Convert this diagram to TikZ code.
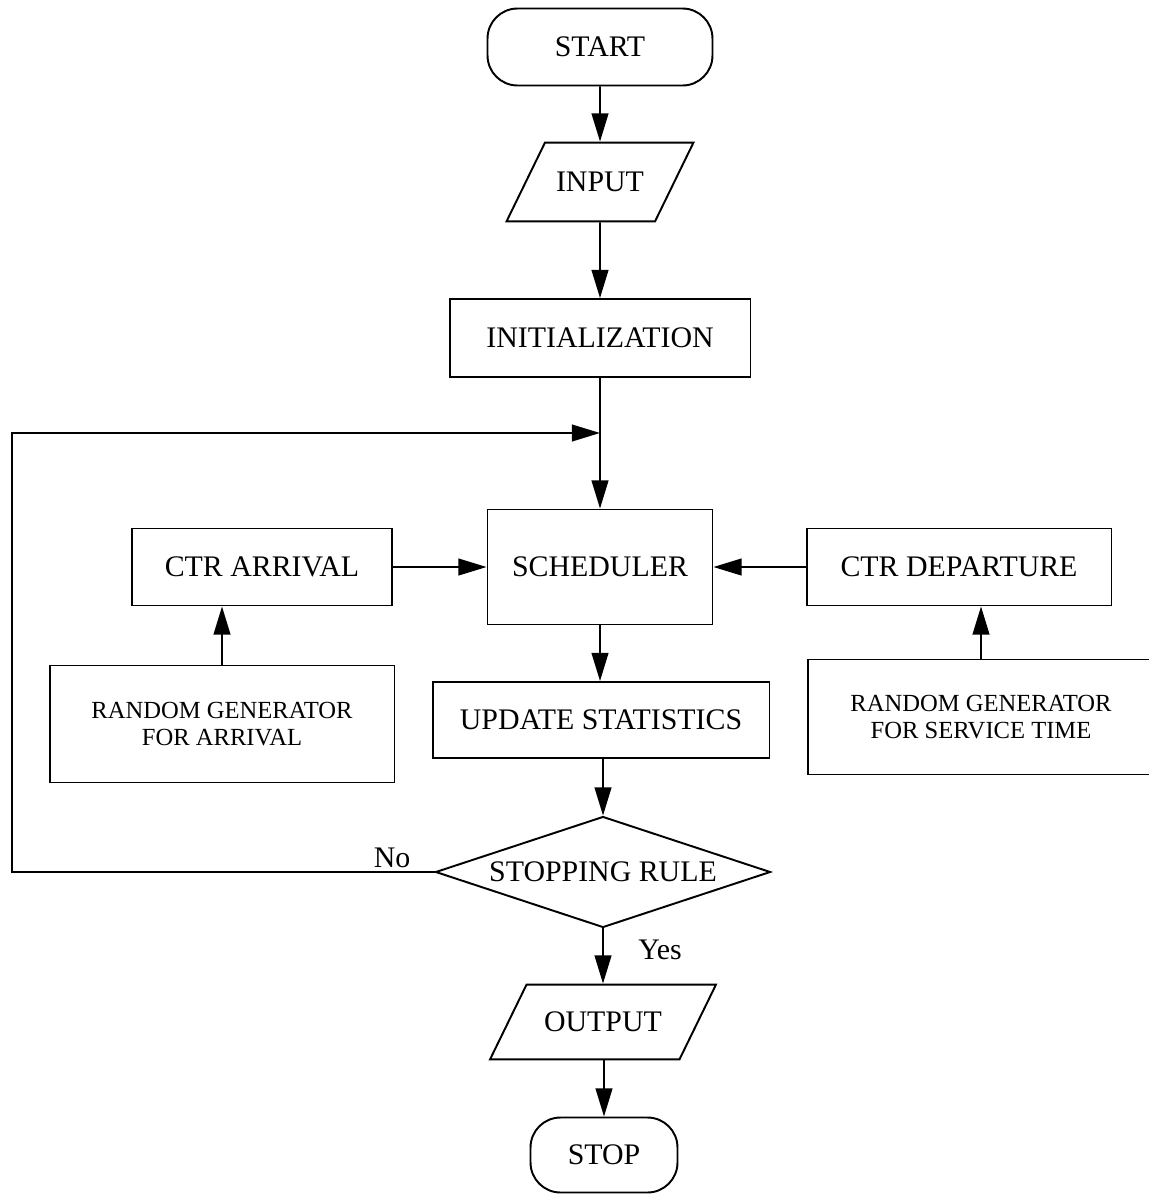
\documentclass[tikz,border=0pt]{standalone}
\usepackage{fontspec}
\setmainfont{Liberation Serif}
\usetikzlibrary{arrows.meta,shapes.geometric}
\newcommand{\bigtxt}{\fontsize{17}{20}\selectfont}
\newcommand{\smalltxt}{\fontsize{14}{15.5}\selectfont}
\tikzset{
  >={Triangle[length=16pt,width=9.5pt]},
  every node/.style={font=\bigtxt},
  proc/.style={draw, rectangle, inner sep=0pt},
  io/.style={draw, trapezium, trapezium left angle=64, trapezium right angle=116,
    trapezium stretches body, inner xsep=0pt, inner ysep=#1},
  term/.style={draw, rectangle, rounded corners=0.6cm, inner sep=0pt},
  test/.style={draw, diamond, aspect=3, inner sep=0pt},
}
\begin{document}
\begin{tikzpicture}[x=0.02cm, y=-0.02cm, line width=1.1pt]
  \useasboundingbox (0,0) rectangle (1149,1197);
  % main column
  \node [term, minimum width=4.5cm, minimum height=1.54cm] (start) at (600,47) {START};
  \node [io=16.8pt, minimum width=3.74cm] (input) at (600,182) {INPUT};
  \node [proc, minimum width=6.02cm, minimum height=1.56cm] (init) at (600,338) {INITIALIZATION};
  \coordinate (jn) at (600,433);
  \node [proc, minimum width=4.5cm, minimum height=2.3cm] (sched) at (600,567) {SCHEDULER};
  \node [proc, minimum width=6.74cm, minimum height=1.52cm] (update) at (601,720) {UPDATE STATISTICS};
  \node [test, minimum width=6.7cm, minimum height=2.22cm] (rule) at (603,872) {STOPPING RULE};
  \node [io=15.6pt, minimum width=4.52cm] (output) at (603,1022) {OUTPUT};
  \node [term, minimum width=2.94cm, minimum height=1.5cm] (stop) at (604,1155) {STOP};
  % side boxes
  \node [proc, minimum width=5.2cm, minimum height=1.54cm] (ctra) at (262,567) {CTR ARRIVAL};
  \node [proc, minimum width=6.1cm, minimum height=1.54cm] (ctrd) at (959,567) {CTR DEPARTURE};
  \node [proc, minimum width=6.9cm, minimum height=2.34cm, align=center, font=\smalltxt]
    (rga) at (222,724) {RANDOM GENERATOR\\FOR ARRIVAL};
  \node [proc, minimum width=6.92cm, minimum height=2.3cm, align=center, font=\smalltxt]
    (rgs) at (981,717) {RANDOM GENERATOR\\FOR SERVICE TIME};
  \node (no) at (392,858) {No};
  \node (yes) at (660,950) {Yes};
  \coordinate (lp) at (12,872);
  % connectors
  \draw [->] (start) -- (input);
  \draw [->] (input) -- (init);
  \draw (init) -- (jn);
  \draw [->] (jn) -- (sched);
  \draw [->] (ctra) -- (sched);
  \draw [->] (ctrd) -- (sched);
  \draw [->] (rga.north) -- (rga.north |- ctra.south);
  \draw [->] (rgs.north) -- (rgs.north |- ctrd.south);
  \draw [->] (sched.south) -- (sched.south |- update.north);
  \draw [->] (update.south -| rule.north) -- (rule.north);
  \draw [->] (rule.south) -- (rule.south |- output.north);
  \draw [->] (output.south -| stop.north) -- (stop.north);
  \draw [->] (rule.west) -- (lp) |- (jn);
\end{tikzpicture}
\end{document}
